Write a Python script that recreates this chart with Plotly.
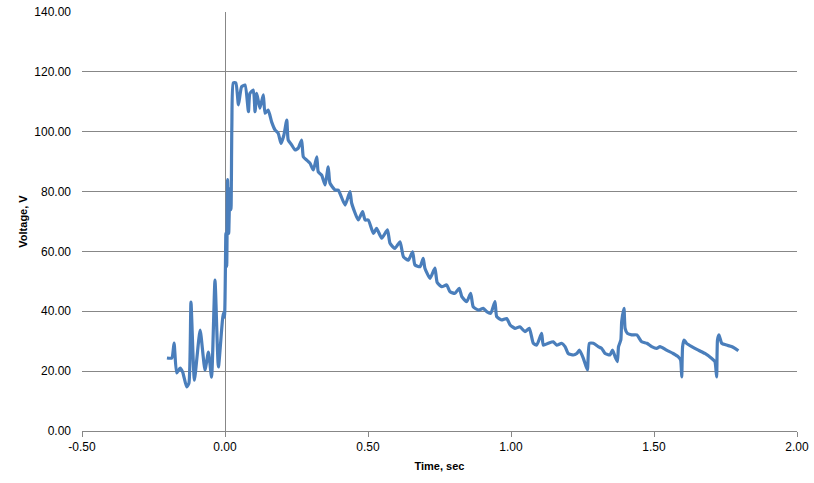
import plotly.graph_objects as go

time_sec = [
    -0.203, -0.186, -0.178, -0.169, -0.157, -0.148, -0.134, -0.126, -0.119, -0.107,
    -0.087, -0.070, -0.058, -0.047, -0.035, -0.023, -0.006, -0.002, 0.003, 0.006,
    0.009, 0.013, 0.017, 0.021, 0.024, 0.029, 0.038, 0.047, 0.058, 0.070,
    0.082, 0.087, 0.099, 0.105, 0.111, 0.122, 0.134, 0.140, 0.151, 0.163,
    0.175, 0.186, 0.196, 0.206, 0.216, 0.221, 0.233, 0.245, 0.256, 0.268,
    0.274, 0.286, 0.297, 0.309, 0.321, 0.326, 0.338, 0.350, 0.361, 0.367,
    0.385, 0.396, 0.420, 0.437, 0.443, 0.466, 0.481, 0.490, 0.501, 0.519,
    0.530, 0.548, 0.568, 0.577, 0.594, 0.612, 0.624, 0.641, 0.656, 0.664,
    0.682, 0.693, 0.699, 0.717, 0.734, 0.742, 0.758, 0.775, 0.787, 0.804,
    0.819, 0.828, 0.845, 0.859, 0.868, 0.886, 0.903, 0.915, 0.929, 0.944,
    0.950, 0.967, 0.985, 0.997, 1.014, 1.031, 1.049, 1.064, 1.078, 1.090,
    1.107, 1.113, 1.130, 1.148, 1.160, 1.177, 1.189, 1.200, 1.218, 1.230,
    1.239, 1.253, 1.267, 1.274, 1.288, 1.305, 1.317, 1.329, 1.346, 1.355,
    1.364, 1.372, 1.376, 1.384, 1.387, 1.395, 1.399, 1.407, 1.422, 1.440,
    1.457, 1.475, 1.492, 1.509, 1.521, 1.544, 1.567, 1.585, 1.593, 1.597,
    1.600, 1.605, 1.614, 1.632, 1.655, 1.678, 1.701, 1.713, 1.719, 1.722,
    1.727, 1.737, 1.754, 1.771, 1.783, 1.795,
]

voltage_v = [
    24.4, 24.4, 29.4, 19.4, 21.0, 19.7, 14.7, 16.0, 43.1, 17.0,
    33.7, 20.4, 26.4, 18.0, 50.4, 21.4, 39.4, 38.0, 66.0, 55.0,
    84.0, 66.0, 81.0, 74.0, 102.0, 116.3, 116.3, 109.0, 115.0, 115.6,
    106.7, 112.8, 113.9, 106.7, 112.8, 107.9, 112.3, 106.2, 107.2, 103.3,
    100.6, 99.5, 96.1, 98.9, 103.9, 97.2, 95.6, 93.9, 94.5, 97.2,
    91.6, 90.5, 89.5, 87.2, 91.6, 86.6, 85.5, 82.2, 88.3, 82.8,
    80.5, 80.5, 75.5, 80.0, 76.1, 70.5, 73.3, 70.5, 70.5, 66.0,
    67.7, 64.4, 67.2, 62.7, 61.0, 63.2, 58.2, 57.1, 59.9, 55.5,
    54.9, 57.7, 54.4, 51.0, 54.4, 49.6, 48.2, 48.8, 46.5, 46.0,
    47.7, 44.9, 43.2, 46.0, 41.5, 40.4, 41.0, 39.9, 39.3, 43.2,
    38.2, 37.1, 37.6, 35.4, 34.3, 34.8, 33.2, 34.3, 29.3, 28.7,
    32.6, 28.7, 29.3, 29.8, 28.7, 29.3, 28.2, 25.9, 25.4, 25.9,
    27.0, 24.3, 20.4, 29.3, 29.3, 28.2, 27.6, 25.9, 25.4, 27.0,
    24.8, 23.2, 28.2, 30.4, 36.5, 41.0, 34.3, 32.6, 32.1, 32.1,
    29.8, 29.3, 28.2, 27.6, 28.2, 27.0, 25.9, 24.8, 23.7, 18.1,
    28.2, 30.4, 29.3, 28.2, 27.0, 25.9, 24.3, 23.2, 18.1, 30.4,
    32.1, 29.3, 28.7, 28.2, 27.6, 26.8,
]

x_ticks = [-0.5, 0.0, 0.5, 1.0, 1.5, 2.0]
y_ticks = [0, 20, 40, 60, 80, 100, 120, 140]

GRID = "#878787"
FONT = "Liberation Sans"

fig = go.Figure()
fig.add_trace(go.Scatter(
    x=time_sec, y=voltage_v, mode="lines",
    line=dict(color="#4A7EBB", width=3.2, shape="spline", smoothing=0.5),
    showlegend=False, hoverinfo="skip",
))

fig.update_layout(
    width=814, height=483,
    margin=dict(l=82, r=17, t=12, b=52, autoexpand=False),
    paper_bgcolor="white", plot_bgcolor="white",
    font=dict(family=FONT, size=12, color="#000000"),
    xaxis=dict(
        range=[-0.5, 2.0], tickvals=x_ticks,
        ticktext=[f"{v:.2f}" for v in x_ticks],
        showgrid=False, zeroline=True, zerolinecolor=GRID, zerolinewidth=1,
        showline=True, linecolor=GRID, linewidth=1,
        ticks="outside", ticklen=5, tickcolor=GRID, tickwidth=1,
        title=dict(text="<b>Time, sec</b>", font=dict(family=FONT, size=11), standoff=8),
        automargin=False, fixedrange=True,
    ),
    yaxis=dict(
        range=[0, 140], tickvals=y_ticks,
        ticktext=[f"{v:.2f}" for v in y_ticks],
        showgrid=True, gridcolor=GRID, gridwidth=1,
        zeroline=False, showline=False, ticks="",
        ticklabelstandoff=10,
        title=dict(text="<b>Voltage, V</b>", font=dict(family=FONT, size=11), standoff=4),
        automargin=False, fixedrange=True,
    ),
)

fig.write_html("out.html")
